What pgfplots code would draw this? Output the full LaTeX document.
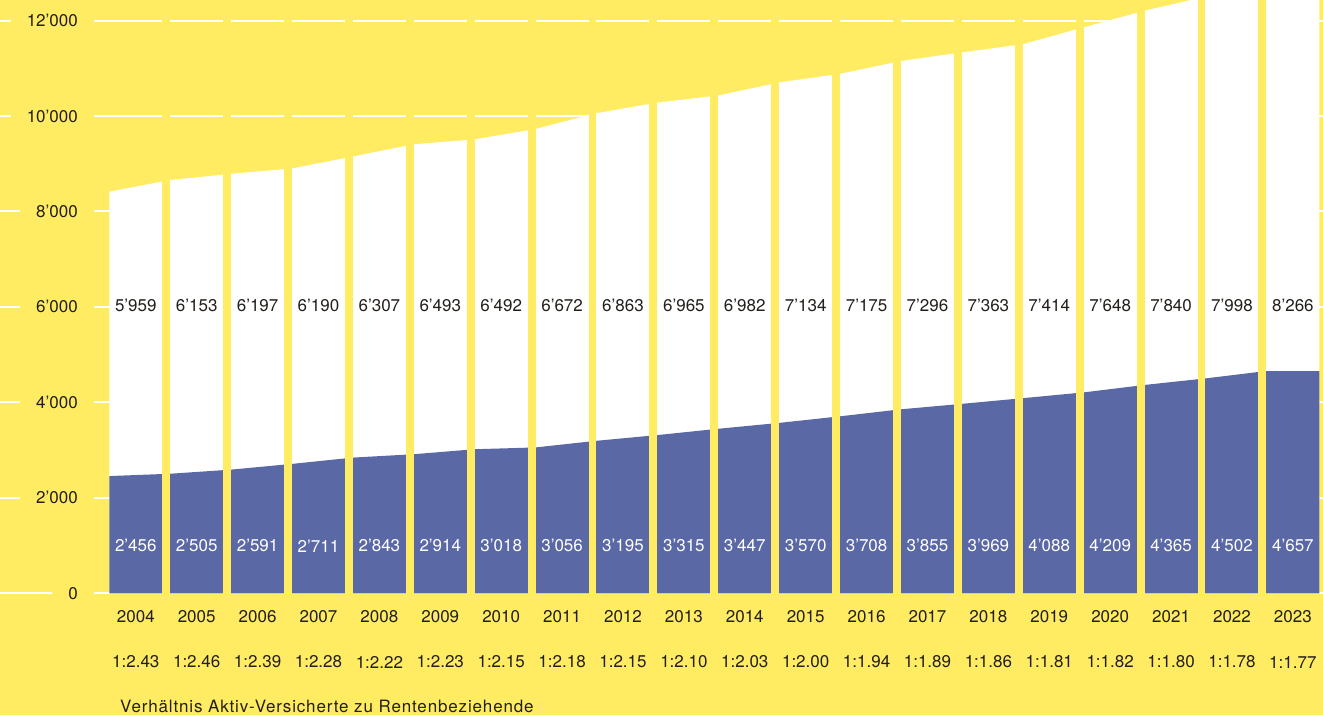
\documentclass[border=0pt]{standalone}
\usepackage{pgfplots}
\pgfplotsset{compat=1.18}
\usepackage{pgfplotstable}
\usepackage{fontspec}
\setmainfont{TeX Gyre Heros}

\definecolor{yel}{HTML}{FFEC63}
\definecolor{blu}{HTML}{5A68A6}
\definecolor{ink}{HTML}{231F1C}

% year, below (blue), above (white), ratio
\pgfplotstableread{
year lo hi ratio
2004 2456 5959 2.43
2005 2505 6153 2.46
2006 2591 6197 2.39
2007 2711 6190 2.28
2008 2843 6307 2.22
2009 2914 6493 2.23
2010 3018 6492 2.15
2011 3056 6672 2.18
2012 3195 6863 2.15
2013 3315 6965 2.10
2014 3447 6982 2.03
2015 3570 7134 2.00
2016 3708 7175 1.94
2017 3855 7296 1.89
2018 3969 7363 1.86
2019 4088 7414 1.81
2020 4209 7648 1.82
2021 4365 7840 1.80
2022 4502 7998 1.78
2023 4657 8266 1.77
}\data

% same series on the drawing axis, last year held flat to the column's end
\pgfplotstableread{
x lo hi
0 2456 5959
1 2505 6153
2 2591 6197
3 2711 6190
4 2843 6307
5 2914 6493
6 3018 6492
7 3056 6672
8 3195 6863
9 3315 6965
10 3447 6982
11 3570 7134
12 3708 7175
13 3855 7296
14 3969 7363
15 4088 7414
16 4209 7648
17 4365 7840
18 4502 7998
19 4657 8266
19.87 4657 8266
}\area

\pgfplotstableread{
y
0
2000
4000
6000
8000
10000
12000
}\yt

\begin{document}
\begin{tikzpicture}
\fontsize{17}{20}\selectfont
\begin{axis}[
    scale only axis,
    width=1323pt, height=715pt,
    xmin=-1.795, xmax=19.93,
    ymin=-2550, ymax=12430,
    axis line style={draw=none},
    tick style={draw=none},
    axis background/.style={fill=yel},
    ytick={0,2000,...,12000},
    xtick=\empty,
    yticklabels=\empty,
    major tick length=0pt,
    ymajorgrids,
    grid style={white, line width=2pt},
    /pgf/number format/assume math mode=true,
    /pgf/number format/1000 sep={’},
    every node near coord/.style={anchor=center, font=\fontsize{17}{20}\selectfont, text=ink},
]

% y tick labels with the grid broken round them
\addplot[draw=none, mark=none, nodes near coords, point meta=\thisrow{y},
    every node near coord/.style={anchor=east, fill=yel, inner xsep=16pt, inner ysep=3pt,
        font=\fontsize{17}{20}\selectfont, text=ink}]
    table[x expr=-0.251, y=y]{\yt};

% areas
\addplot[fill=white, draw=none] table[x=x, y expr=\thisrow{lo}+\thisrow{hi}]{\area} \closedcycle;
\addplot[fill=blu, draw=none] table[x=x, y=lo]{\area} \closedcycle;

% yellow separators between the years
\pgfplotsinvokeforeach{1,...,19}{
  \fill[yel] (axis cs:#1-0.131,-48) rectangle (axis cs:#1,12500);
}

% value labels
\addplot[draw=none, mark=none, nodes near coords, point meta=\thisrow{hi}]
    table[x expr=\thisrow{year}-2004+0.435, y expr=6040]{\data};
\addplot[draw=none, mark=none, nodes near coords, point meta=\thisrow{lo},
    every node near coord/.append style={text=white}]
    table[x expr=\thisrow{year}-2004+0.435, y expr=993]{\data};
\addplot[draw=none, mark=none, point meta=\thisrow{year},
    nodes near coords={\pgfmathprintnumber[1000 sep={}]{\pgfplotspointmeta}}]
    table[x expr=\thisrow{year}-2004+0.435, y expr=-497]{\data};
\addplot[draw=none, mark=none, point meta=\thisrow{ratio},
    nodes near coords={1:\pgfmathprintnumber[fixed, fixed zerofill, precision=2]{\pgfplotspointmeta}}]
    table[x expr=\thisrow{year}-2004+0.435, y expr=-1440]{\data};

\node[anchor=west, text=ink, inner sep=0pt] at (axis cs:0.176,-2362)
    {\addfontfeature{LetterSpace=5}Verhältnis Aktiv-Versicherte zu Rentenbeziehende};
\end{axis}
\pgfresetboundingbox
\path[use as bounding box] (current axis.south west) rectangle (current axis.north east);
\end{tikzpicture}
\end{document}
